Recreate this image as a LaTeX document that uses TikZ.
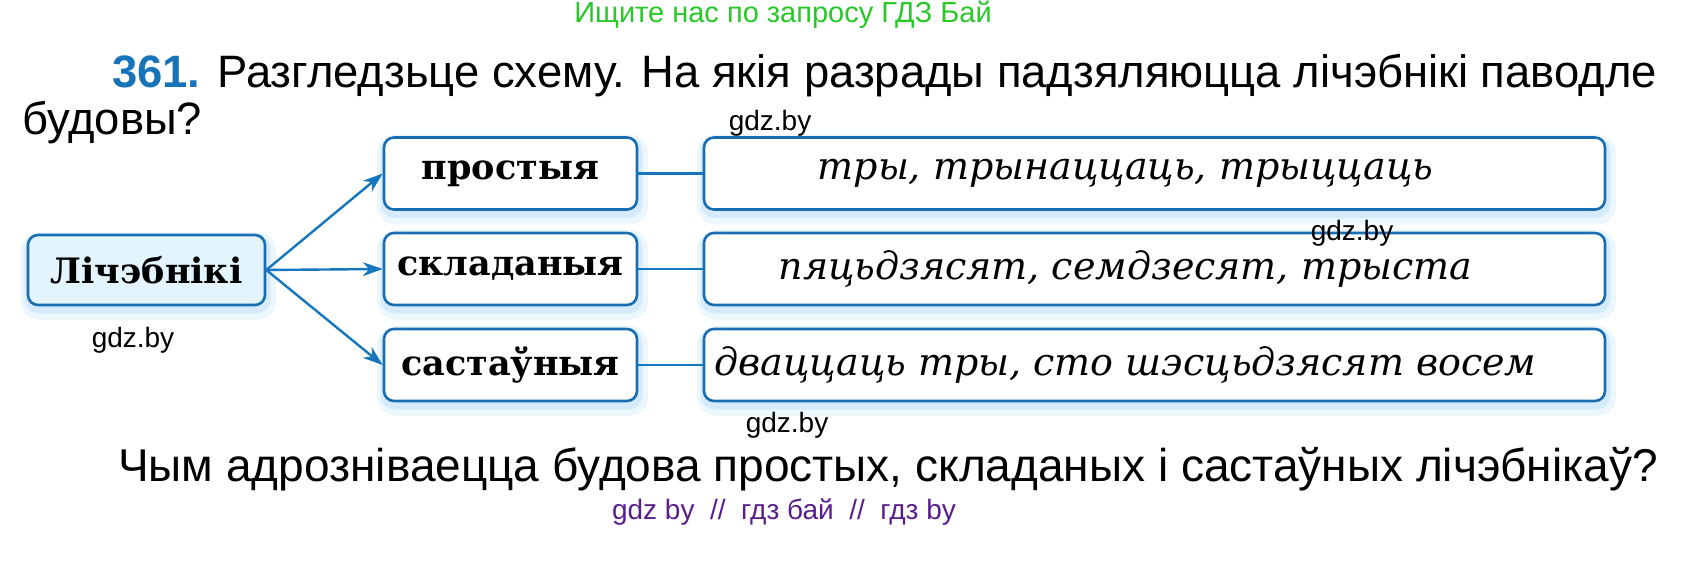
\documentclass[tikz,border=0pt]{standalone}
\usepackage{fontspec}
\setmainfont{Liberation Sans}
\newfontfamily\schemeserif{DejaVu Serif}
\usetikzlibrary{positioning, arrows.meta}
\definecolor{schemeblue}{RGB}{24,110,176}
\definecolor{arrowblue}{RGB}{22,118,190}
\definecolor{paleblue}{RGB}{228,244,253}
\definecolor{glowblue}{RGB}{160,210,245}
\definecolor{hintgreen}{RGB}{40,200,40}
\definecolor{hintpurple}{RGB}{90,30,140}
\definecolor{numblue}{RGB}{25,115,185}
\tikzset{>={Stealth[length=20pt,width=14pt]}}
\newcommand{\exshift}{\kern58pt}

\begin{document}
\begin{tikzpicture}
    [
        x=1pt, y=-1pt,
        glow/.style={preaction={draw=glowblue, draw opacity=0.2, line width=18pt, transform canvas={xshift=2pt, yshift=-6pt}},
                     preaction={draw=glowblue, draw opacity=0.3, line width=9pt, transform canvas={xshift=1pt, yshift=-4pt}}},
        scheme_box/.style={glow, rectangle, rounded corners=10pt, draw=schemeblue, line width=2.6pt, fill=white, inner sep=0pt},
        main_box/.style={scheme_box, fill=paleblue, minimum width=237pt, minimum height=70pt, font=\schemeserif\bfseries\fontsize{35}{38}\selectfont},
        kind_box/.style={scheme_box, minimum width=253pt, minimum height=72pt, font=\schemeserif\bfseries\fontsize{35}{38}\selectfont},
        example_box/.style={scheme_box, minimum width=901pt, minimum height=72pt, font=\schemeserif\itshape\fontsize{38}{40}\selectfont},
        body_text/.style={inner sep=0pt, anchor=base west, font=\fontsize{45.4}{50}\selectfont},
        mark_text/.style={inner sep=0pt, font=\fontsize{28}{30}\selectfont},
        link/.style={draw=arrowblue, line width=2.4pt},
    ]

  \useasboundingbox (0,0) rectangle (1688,569);

  % watermark lines
  \node[mark_text, text=hintgreen, font=\fontsize{29}{30}\selectfont] (hint) at (783,15) {Ищите нас по запросу ГДЗ Бай};
  \node[mark_text, text=hintpurple, font=\fontsize{28}{30}\selectfont] (footer) at (784,512) {gdz by \ // \ гдз бай \ // \ гдз by};

  % task text
  \node[body_text] (task) at (112,88) {\textcolor{numblue}{\bfseries 361.} Разгледзьце схему. На якія разрады падзяляюцца лічэбнікі паводле};
  \node[body_text] (task2) at (22,135) {будовы?};
  \node[body_text, font=\fontsize{46}{50}\selectfont] (question) at (118,481) {Чым адрозніваецца будова простых, складаных і састаўных лічэбнікаў?};

  % scheme
  \node[main_box] (lich) at (146.5,270) {Лічэбнікі};
  \node[kind_box] (prost) at (510.5,173.5) {простыя};
  \node[kind_box] (sklad) at (510.5,269) {складаныя};
  \node[kind_box] (sast) at (510.5,365) {састаўныя};
  \node[example_box] (ex1) at (1154.5,173.5) {тры, трынаццаць, трыццаць\exshift};
  \node[example_box] (ex2) at (1154.5,269) {пяцьдзясят, семдзесят, трыста\exshift};
  \node[example_box] (ex3) at (1154.5,365) {дваццаць тры, сто шэсцьдзясят восем\exshift};

  \draw[link, ->] (lich.east) -- (prost.west);
  \draw[link, ->] (lich.east) -- (sklad.west);
  \draw[link, ->] (lich.east) -- (sast.west);
  \draw[link] (prost) -- (ex1);
  \draw[link] (sklad) -- (ex2);
  \draw[link] (sast) -- (ex3);

  % gdz marks
  \node[mark_text] (mark1) at (770,123) {gdz.by};
  \node[mark_text] (mark2) at (1352,233) {gdz.by};
  \node[mark_text] (mark3) at (133,340) {gdz.by};
  \node[mark_text] (mark4) at (787,425) {gdz.by};
\end{tikzpicture}
\end{document}
